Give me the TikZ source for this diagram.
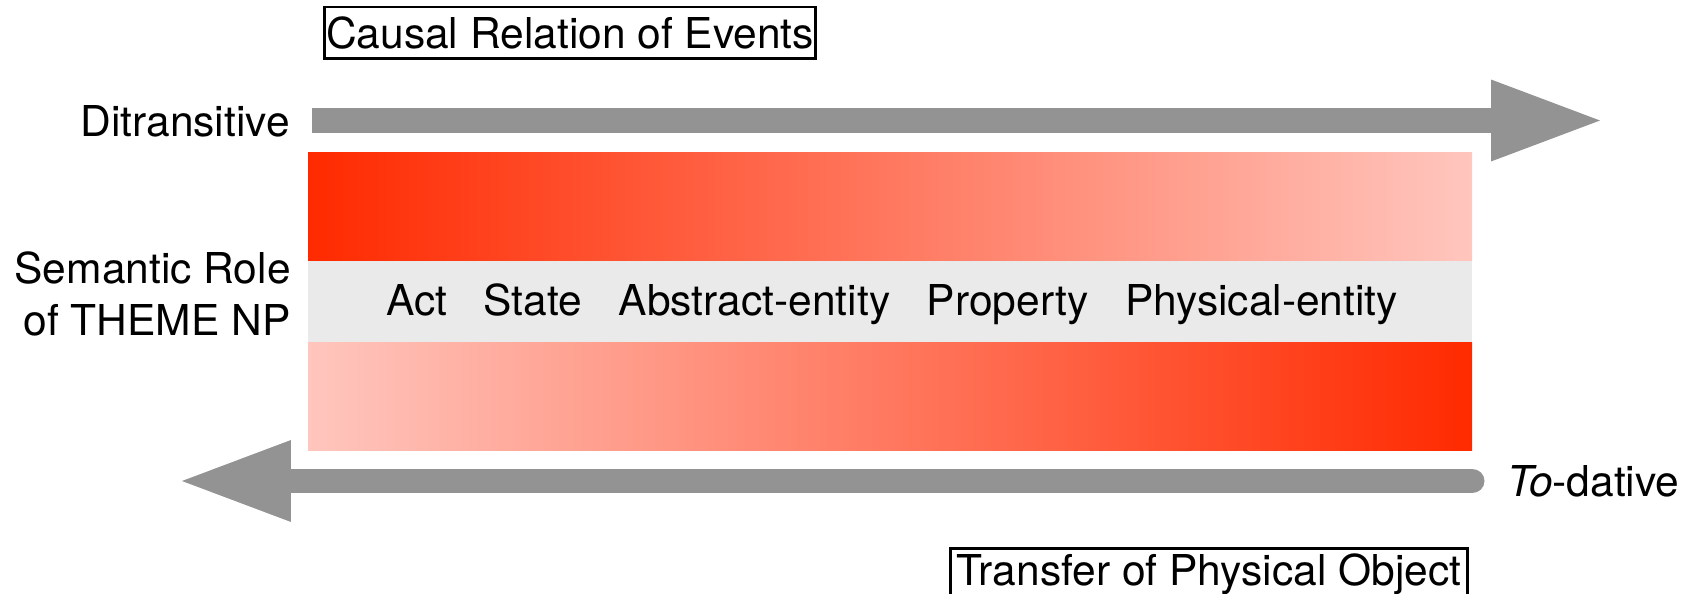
\documentclass[tikz,border=0pt]{standalone}
\usepackage{fontspec}
\setmainfont{TeX Gyre Heros}
\usetikzlibrary{arrows.meta}
\definecolor{hot}{RGB}{255, 42, 0}
\definecolor{warm}{RGB}{255, 112, 100}
\definecolor{pale}{RGB}{255, 198, 190}
\definecolor{band}{RGB}{234, 234, 234}
\definecolor{shaft}{RGB}{147, 147, 147}

\begin{document}
\begin{tikzpicture}[x=0.02cm, y=-0.02cm,
  txt/.style={inner sep=0pt, font=\fontsize{24.2}{30}\selectfont},
  framed/.style={txt, draw, line width=0.06cm, minimum height=1.04cm},
  fat/.style={shaft, line width=0.5cm,
    -{Triangle[length=2.18cm, width=1.64cm, line width=0pt]}}]

  \useasboundingbox (0, 0) rectangle (1691, 594);

  \shade[left color=hot, middle color=warm, right color=pale] (308, 153) rectangle (1472, 261);
  \fill[band] (308, 261) rectangle (1472, 343);
  \shade[left color=pale, middle color=warm, right color=hot] (308, 343) rectangle (1472, 451);

  \node[txt] (roles) at (892, 316) [anchor=base]
  {Act\hspace{0.86em}State\hspace{0.86em}Abstract-entity\hspace{0.86em}Property\hspace{0.86em}Physical-entity};

  \node[framed, minimum width=9.84cm] (causal) at (570, 33) {Causal Relation of Events};
  \node[framed, minimum width=10.36cm, anchor=north] (transfer) at (1209, 547)
  {Transfer of Physical Object};

  \node[txt, anchor=base east] (ditrans) at (290, 137) {Ditransitive};
  \node[txt, anchor=east, align=right] (semrole) at (291, 294) {Semantic Role\\of THEME NP};
  \node[txt, anchor=base west] (todative) at (1507, 497) {\textit{To}-dative};

  \coordinate (ditail) at (312, 120.5);
  \coordinate (ditip) at (1600, 120.5);
  \draw[fat] (ditail) -- (ditip);

  \coordinate (totail) at (1472, 481);
  \coordinate (totip) at (182, 481);
  \draw[fat, line cap=round] (totail) -- (totip);

\end{tikzpicture}
\end{document}
